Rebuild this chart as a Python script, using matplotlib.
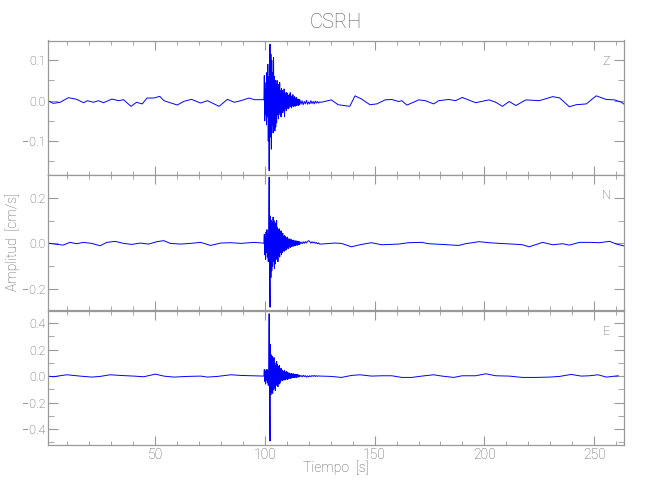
import numpy as np
import matplotlib
matplotlib.use('Agg')
import matplotlib.pyplot as plt
from matplotlib.ticker import MultipleLocator, FuncFormatter

station = 'CSRH'
components = ['Z', 'N', 'E']

# --- Z component ---
z_before_t = [1.2, 3.7, 6.8, 10.6, 14.4, 17.5, 19.3, 22.0, 24.3, 26.6, 30.4, 33.5, 35.7, 39.1, 41.6, 44.2,
              46.4, 49.5, 52.2, 54.1, 56.3, 60.2, 63.2, 66.6, 70.8, 73.9, 79.2, 83.0, 86.1, 89.1, 92.9, 95.2, 99.1]
z_before_v = [0.0, -0.0066, -0.004, 0.0074, 0.0033, -0.005, 0.0, -0.004, 0.0, -0.005, 0.004, 0.0, 0.0025,
              -0.014, -0.004, -0.008, 0.0066, 0.0066, 0.0107, 0.0, -0.004, -0.0107, -0.0016, 0.0033, -0.0058,
              0.0, -0.014, 0.0033, -0.004, 0.0, 0.0066, 0.0025, 0.0025]
z_burst_v = [0.002, 0.062, -0.05, 0.03, -0.035, 0.045, -0.06, 0.07, -0.04, 0.09,
             -0.10, 0.06, -0.173, 0.08, 0.14, -0.09, 0.115, -0.12, 0.10, -0.06,
             0.07, -0.08, 0.107, -0.05, 0.06, -0.075, 0.05, -0.065, 0.04, -0.055,
             0.05, -0.035, 0.03, -0.045, 0.04, -0.03, 0.045, -0.035, 0.025, -0.04,
             0.03, -0.02, 0.025, -0.03, 0.02, -0.025, 0.029, -0.04, 0.02, -0.02,
             0.015, -0.025, 0.02, -0.015, 0.018, -0.02, 0.012, -0.018, 0.015, -0.012,
             0.02, -0.015, 0.01, -0.018, 0.012, -0.012, 0.015, -0.015, 0.008, -0.012,
             0.01, -0.014, 0.006, -0.01, 0.008, -0.012, 0.004, -0.01, 0.004, -0.012,
             0.003, -0.009, 0.002]
z_tail_v = [-0.009, 0.0, -0.01, -0.002, -0.008, 0.001, -0.009, -0.003, -0.008, 0.0,
            -0.007, -0.002, -0.008, -0.001, -0.006, -0.002, -0.006, -0.003]
z_after_t = [125.7, 130.3, 133.4, 138.7, 141.1, 144.1, 147.9, 151.0, 154.8, 157.8, 160.9, 162.4, 164.7,
             170.1, 173.1, 176.9, 179.2, 183.8, 186.9, 189.9, 193.7, 196.0, 202.1, 205.2, 208.2, 211.3,
             214.3, 218.9, 225.0, 231.1, 234.2, 238.7, 241.8, 246.4, 250.9, 255.5, 259.3, 262.4, 264.7]
z_after_v = [-0.004, 0.002, -0.010, -0.014, 0.012, 0.004, -0.010, -0.008, 0.002, 0.003, -0.002, 0.0,
             -0.011, 0.002, 0.0, -0.008, 0.0, 0.003, 0.0, 0.008, 0.0, -0.005, 0.002, -0.004, -0.014,
             -0.002, -0.012, 0.002, 0.0, 0.010, 0.007, -0.015, -0.010, -0.008, 0.012, 0.003, 0.002,
             -0.004, -0.013]

# --- N component ---
n_before_t = [1.2, 4.4, 8.2, 11.3, 14.4, 17.4, 21.2, 25.0, 28.1, 31.9, 35.7, 39.5, 43.3, 47.1, 50.9, 54.0,
              57.0, 61.6, 66.2, 70.8, 75.3, 79.9, 84.5, 89.1, 95.2, 99.1]
n_before_v = [0.0015, -0.003, -0.0075, 0.0045, -0.0015, 0.0045, 0.0, -0.0104, 0.0045, 0.009, 0.0, -0.0045,
              0.0015, -0.003, 0.0075, 0.012, 0.0, -0.003, 0.0, 0.0045, -0.009, 0.0015, 0.003, 0.0, 0.0045,
              0.0015]
n_burst_v = [0.0, 0.04, -0.05, 0.03, -0.07, 0.05, -0.04, 0.06, -0.06, 0.04,
             -0.08, 0.07, 0.29, -0.10, -0.28, 0.12, -0.15, 0.10, -0.12, 0.09,
             -0.10, 0.115, -0.08, 0.10, -0.11, 0.08, -0.09, 0.09, -0.07, 0.10,
             -0.06, 0.07, -0.08, 0.06, -0.05, 0.064, -0.06, 0.05, -0.04, 0.055,
             -0.05, 0.035, -0.04, 0.045, -0.03, 0.03, -0.035, 0.034, -0.025, 0.03,
             -0.03, 0.02, -0.025, 0.028, -0.02, 0.02, -0.022, 0.018, -0.015, 0.02,
             -0.018, 0.015, -0.012, 0.016, -0.014, 0.012, -0.01, 0.014, -0.012, 0.01,
             -0.008, 0.012, -0.01, 0.009, -0.007, 0.011, -0.008, 0.008, -0.006, 0.009,
             -0.005, 0.007, -0.003]
n_tail_v = [0.006, -0.002, 0.007, 0.0, 0.008, 0.002, 0.009, 0.012, 0.008, 0.001,
            0.007, 0.002, 0.006, 0.0, 0.004, -0.002, 0.002, -0.003]
n_after_t = [125.7, 131.8, 134.9, 139.5, 143.3, 148.6, 153.2, 160.9, 165.4, 171.5, 174.6, 180.7, 188.3,
             191.4, 197.5, 202.1, 206.7, 212.8, 217.3, 220.4, 226.5, 231.1, 235.6, 238.7, 243.3, 247.9,
             252.4, 257.0, 260.1, 263.9]
n_after_v = [-0.003, 0.0015, 0.0, -0.015, -0.006, 0.003, -0.006, -0.003, 0.003, 0.0045, -0.0015, -0.0045,
             -0.009, -0.0015, 0.0075, 0.003, 0.0, -0.003, -0.006, -0.015, 0.0045, -0.006, -0.0015,
             -0.0075, 0.0045, 0.0045, 0.003, 0.009, -0.003, -0.012]

# --- E component ---
e_before_t = [1.2, 3.7, 9.8, 15.9, 21.2, 25.0, 29.6, 34.2, 40.3, 44.9, 50.2, 54.0, 58.6, 64.7, 70.8, 73.9,
              78.4, 84.5, 89.1, 93.7, 99.1]
e_before_v = [0.0, -0.005, 0.01, 0.0, -0.0075, -0.0025, 0.01, 0.005, 0.0, -0.005, 0.015, 0.0, -0.0075,
              -0.0025, 0.0, -0.0075, -0.0025, 0.01, 0.005, 0.0025, 0.0]
e_burst_v = [0.0, 0.05, -0.04, 0.03, -0.06, 0.045, -0.03, 0.05, -0.05, 0.04,
             -0.07, 0.08, 0.47, -0.12, -0.49, 0.24, -0.14, 0.16, -0.12, 0.15,
             -0.13, 0.12, -0.10, 0.14, -0.09, 0.10, -0.11, 0.08, -0.07, 0.11,
             -0.06, 0.09, -0.08, 0.07, -0.05, 0.08, -0.06, 0.05, -0.045, 0.06,
             -0.03, 0.045, -0.035, 0.04, -0.03, 0.035, -0.025, 0.045, -0.03, 0.03,
             -0.025, 0.035, -0.02, 0.03, -0.025, 0.02, -0.02, 0.025, -0.015, 0.02,
             -0.018, 0.015, -0.015, 0.02, -0.012, 0.015, -0.01, 0.018, -0.012, 0.012,
             -0.01, 0.015, -0.008, 0.01, -0.01, 0.012, -0.006, 0.01, -0.008, 0.008,
             -0.005, 0.007, -0.004]
e_tail_v = [0.005, -0.006, 0.006, -0.004, 0.004, -0.008, 0.002, -0.006, 0.003, -0.004,
            0.004, -0.002, 0.005, -0.003, 0.003, -0.002, 0.002, 0.0]
e_after_t = [125.7, 130.3, 134.9, 139.5, 143.3, 148.6, 153.2, 157.8, 162.4, 167.0, 171.5, 176.9, 180.7,
             186.0, 189.9, 196.0, 200.6, 205.2, 211.3, 217.3, 223.5, 229.6, 234.2, 239.5, 244.1, 247.9,
             251.7, 255.5, 260.9]
e_after_v = [0.0, -0.0025, -0.01, 0.005, 0.01, 0.0, 0.0025, 0.0025, -0.01, -0.01, 0.0, 0.01, 0.0, -0.01,
             0.0025, 0.0025, 0.0175, 0.0025, 0.0, -0.01, -0.01, -0.0075, -0.0025, 0.0125, 0.0, 0.0025,
             0.01, -0.0075, 0.0025]

# sampling of the burst (0.2 s) and its coda (0.5 s)
burst_t = 99.6 + 0.2 * np.arange(83)
tail_t = 116.5 + 0.5 * np.arange(18)


def trace(before_t, before_v, burst_v, tail_v, after_t, after_v):
    t = np.concatenate([before_t, burst_t, tail_t, after_t])
    v = np.concatenate([before_v, burst_v, tail_v, after_v])
    return t, v


traces = [
    trace(z_before_t, z_before_v, z_burst_v, z_tail_v, z_after_t, z_after_v),
    trace(n_before_t, n_before_v, n_burst_v, n_tail_v, n_after_t, n_after_v),
    trace(e_before_t, e_before_v, e_burst_v, e_tail_v, e_after_t, e_after_v),
]
ylims = [(-0.184, 0.149), (-0.29, 0.30), (-0.52, 0.495)]
y_major = [0.1, 0.2, 0.2]
y_minor = [0.05, 0.1, 0.1]
xlim = (1.3, 263.5)

TXT = '#555555'
SPINE = '#999999'
plt.rcParams['font.family'] = ['Roboto', 'DejaVu Sans']
plt.rcParams['font.weight'] = 'light'

fig = plt.figure(figsize=(6.5, 5), dpi=100)
bottoms = [0.65, 0.381, 0.11]
axes = []
for i, (t, v) in enumerate(traces):
    ax = fig.add_axes([0.0738, bottoms[i], 0.886, 0.269])
    ax.plot(t, v, color='#0000ff', linewidth=0.7)
    ax.set_xlim(*xlim)
    ax.set_ylim(*ylims[i])
    ax.xaxis.set_major_locator(MultipleLocator(50))
    ax.xaxis.set_minor_locator(MultipleLocator(10))
    ax.yaxis.set_major_locator(MultipleLocator(y_major[i]))
    ax.yaxis.set_minor_locator(MultipleLocator(y_minor[i]))
    ax.yaxis.set_major_formatter(FuncFormatter(lambda y, p: f'{y:.1f}'.replace('-', '\u2212')))
    ax.tick_params(axis='x', which='major', direction='in', length=6.5, top=True, color=SPINE,
                   labelcolor=TXT, labelsize=10, pad=2.5)
    ax.tick_params(axis='x', which='minor', direction='in', length=2.8, top=True, color=SPINE)
    ax.tick_params(axis='y', which='major', direction='in', length=7, right=True, color=SPINE,
                   labelcolor=TXT, labelsize=9, pad=2)
    ax.tick_params(axis='y', which='minor', direction='in', length=4, right=True, color=SPINE)
    if i < 2:
        ax.tick_params(axis='x', labelbottom=False)
    for s in ax.spines.values():
        s.set_color(SPINE)
        s.set_linewidth(0.9)
    ax.text(0.969, 0.845, components[i], transform=ax.transAxes, ha='center', va='center',
            color=TXT, fontsize=9)
    axes.append(ax)

fig.text(0.517, 0.956, station, ha='center', va='center', color=TXT, fontsize=14.5)
fig.text(0.517, 0.064, 'Tiempo  [s]', ha='center', va='center', color=TXT, fontsize=10)
fig.text(0.019, 0.516, 'Amplitud  [cm/s]', ha='center', va='center', rotation=90, color=TXT, fontsize=10)

fig.savefig('out.png', dpi=100)
